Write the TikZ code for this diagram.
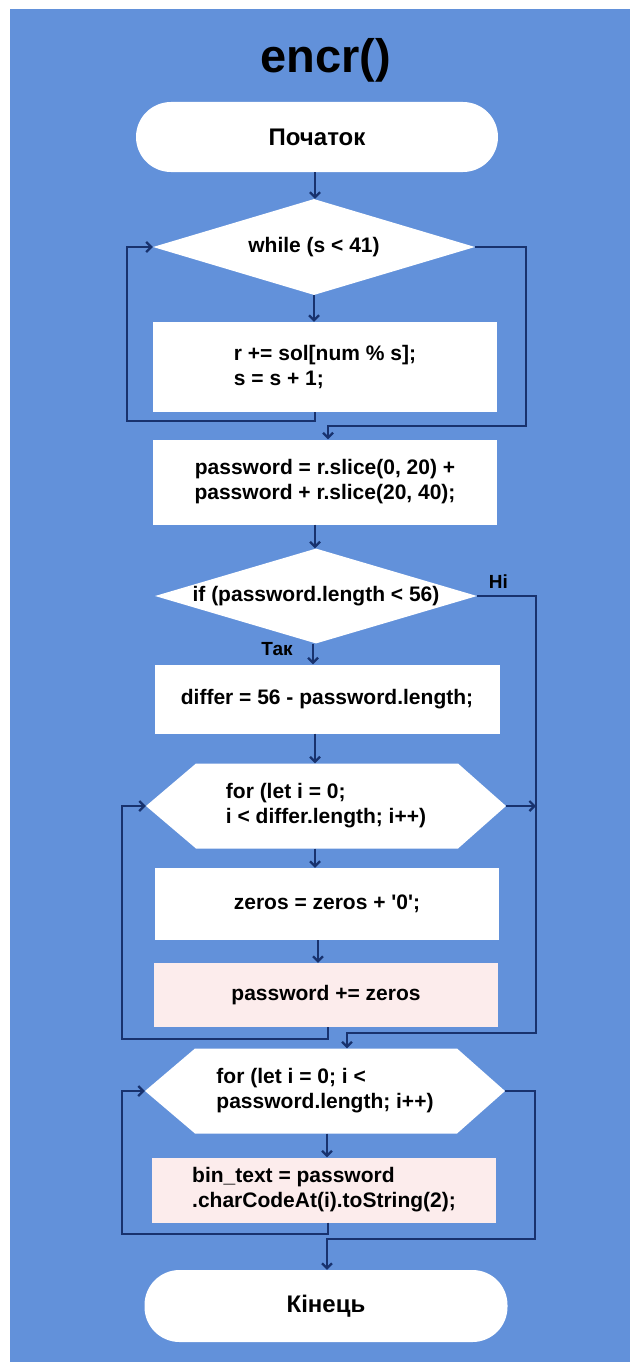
\documentclass[tikz,border=0pt]{standalone}
\usepackage{fontspec}
\setmainfont{Liberation Sans}
\usetikzlibrary{arrows.meta,shapes.geometric}
\definecolor{bgblue}{RGB}{98,145,218}
\definecolor{navy}{RGB}{24,50,110}
\definecolor{pinkbox}{RGB}{252,236,236}

\begin{document}
\begin{tikzpicture}[x=1pt,y=-1pt,>={Straight Barb[length=5pt,width=10pt]},
  font=\fontsize{21}{25}\selectfont\bfseries,
  flow/.style={->,draw=navy,line width=2.2pt},
  term/.style={fill=white,rounded corners=35pt,minimum width=362pt,minimum height=70pt,inner sep=0pt,
    font=\fontsize{24}{28}\selectfont\bfseries},
  proc/.style={fill=white,minimum width=344pt,minimum height=#1,inner sep=0pt,align=left},
  proc/.default=70pt,
  cond/.style={diamond,fill=white,aspect=3.4,minimum width=322pt,minimum height=96pt,inner sep=0pt},
  cycbox/.style={fill=bgblue,minimum width=360pt,minimum height=85pt,inner sep=0pt,align=left,
    path picture={\fill[white] (path picture bounding box.west)
      -- ([xshift=50pt]path picture bounding box.north west) -- ([xshift=-48pt]path picture bounding box.north east)
      -- (path picture bounding box.east) -- ([xshift=-48pt]path picture bounding box.south east)
      -- ([xshift=50pt]path picture bounding box.south west) -- cycle;}}]
\useasboundingbox (0,0) rectangle (630,1362);
\fill[bgblue] (10,9) rectangle (630,1362);
\node[font=\fontsize{47}{47}\selectfont\bfseries] (title) at (326,60) {encr()};
% blocks
\node[term] (start) at (317,137) {Початок};
\node[cond] (while) at (314,247) {while (s < 41)};
\node[proc=90pt] (body) at (325,367) {r += sol[num \% s];\\s = s + 1;};
\node[proc=85pt,align=center] (pass) at (325,482) {password = r.slice(0, 20) +\\password + r.slice(20, 40);};
\node[cond,minimum height=95pt] (ifpw) at (316,596) {if (password.length < 56)};
\node[proc=69pt,minimum width=345pt] (differ) at (327,699) {differ = 56 - password.length;};
\node[cycbox] (forz) at (326,806) {for (let i = 0;\\i < differ.length; i++)};
\node[proc=72pt] (zeros) at (327,904) {zeros = zeros + \textquotesingle0\textquotesingle;};
\node[proc=64pt,fill=pinkbox] (padd) at (326,995) {password += zeros};
\node[cycbox] (forb) at (325,1091) {for (let i = 0; i <\\password.length; i++)};
\node[proc=65pt,fill=pinkbox] (bin) at (324,1190) {bin\_text = password\\.charCodeAt(i).toString(2);};
\node[term,minimum width=363pt,minimum height=72pt] (stop) at (326,1306) {Кінець};
% straight arrows
\foreach \a/\b/\x in {start/while/315,while/body/314,pass/ifpw/315,differ/forz/315,forz/zeros/315,zeros/padd/318,forb/bin/327}
  \draw[flow] (\x,0 |- \a.south) -- (\x,0 |- \b.north);
\draw[flow] (313,0 |- ifpw.south) -- (313,0 |- differ.north) node[pos=.25,left=16pt,font=\fontsize{19}{22}\selectfont\bfseries]{Так};
% loops
\draw[flow] (315,0 |- body.south) -- ++(0,9) -| ([xshift=-26pt]while.west) -- (while.west);
\draw[flow] (while.east) -- ++(51,0) |- ([yshift=13pt]pass.north -| 328,0) -- (pass.north -| 328,0);
\draw[flow] (ifpw.east) -- ++(59,0) node[pos=.36,above=3pt,font=\fontsize{19}{22}\selectfont\bfseries]{Ні} |- ([yshift=15pt]forb.north -| 347,0) -- (forb.north -| 347,0);
\draw[flow] (forz.east) -- (forz.east -| 536,0);
\draw[flow] (padd.south -| 328,0) -- ++(0,12) -| ([xshift=-24pt]forz.west) -- (forz.west);
\draw[flow] (bin.south -| 328,0) -- ++(0,11) -| ([xshift=-23pt]forb.west) -- (forb.west);
\draw[flow] (forb.east) -- ++(30,0) |- ([yshift=31pt]stop.north -| 327,0) -- (stop.north -| 327,0);
\end{tikzpicture}
\end{document}
